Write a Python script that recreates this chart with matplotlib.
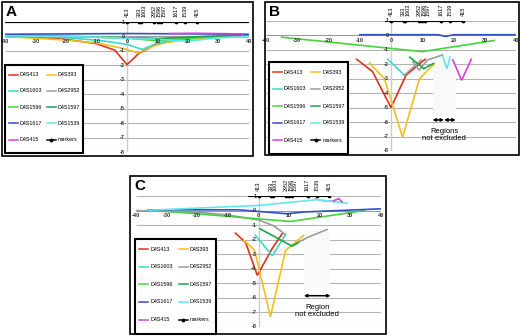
import numpy as np
import matplotlib.pyplot as plt
from matplotlib.patches import Rectangle
from matplotlib.lines import Line2D

plt.rcParams['font.family'] = ['Liberation Sans', 'DejaVu Sans']

W, H = 520, 336
nan = np.nan

names = ['D4S413', 'D4S393', 'D4S1603', 'D4S2952', 'D4S1596',
         'D4S1597', 'D4S1617', 'D4S1539', 'D4S415']
colors = ['#e2321c', '#f2c01a', '#3fd8c6', '#9c9c9c', '#46d43a',
          '#1ea64e', '#3050c8', '#62e8ea', '#d840d8']

marker_pos = [0, 4, 4.6, 9, 10, 11, 16, 19, 23]
marker_lab = ['413', '393', '1603', '2952', '1596', '1597', '1617', '1539', '415']
xticks = [-40, -30, -20, -10, 0, 10, 20, 30, 40]
yticks = [1, 0, -1, -2, -3, -4, -5, -6, -7, -8]

# panel A
a_413 = [[-40, 0], [-30, -0.05], [-20, -0.2], [-10, -0.5], [-4, -0.95], [0, -1.95],
         [4, -1.15], [10, -0.5], [20, -0.15], [30, -0.02], [40, 0]]
a_393 = [[-40, 0], [-20, -0.25], [-10, -0.45], [-3, -0.75], [0, -0.9], [3.5, -1.15],
         [7, -0.8], [12, -0.45], [20, -0.2], [30, -0.05], [40, 0]]
a_1603 = [[-40, 0.08], [-20, -0.08], [-8, -0.3], [0, -0.55], [5, -0.9], [10, -0.45],
          [20, -0.1], [40, 0.05]]
a_2952 = [[-40, 0.05], [0, -0.05], [10, -0.15], [20, -0.05], [40, 0.05]]
a_1596 = [[-40, 0.12], [-20, 0.02], [0, -0.12], [10, -0.3], [20, -0.12], [40, 0.12]]
a_1597 = [[-40, 0.02], [-10, -0.05], [10, -0.15], [25, 0], [40, 0.1]]
a_1617 = [[-40, 0.15], [0, 0.2], [20, 0.18], [40, 0.15]]
a_1539 = [[-40, 0.05], [-10, -0.05], [10, -0.2], [20, -0.32], [30, -0.1], [40, 0]]
a_415 = [[14, 0.2], [22, 0.22], [30, 0.2], [38, 0.17]]

# panel B
b_413 = [[-11, -1.65], [-5.9, -2.5], [0, -5.0], [4.8, -2.75], [10.9, -1.65]]
b_393 = [[-6.9, -1.9], [-2.1, -3.0], [3.7, -7.05], [9.1, -3.0], [13.9, -1.95]]
b_1603 = [[-1, -1.65], [4.3, -2.75]]
b_2952 = [[4.3, -2.75], [9.7, -1.7], [nan, nan], [7, -1.8], [9, -2.4], [11.7, -1.7],
          [16.5, -1.35]]
b_1596 = [[-35, -0.12], [10, -1.12], [33, -0.35]]
b_1597 = [[6, -1.5], [10.5, -2.3], [13.5, -1.95]]
b_1617 = [[-10, 0.05], [15, 0.05], [17.5, -0.07], [20, 0.05], [40, 0.05]]
b_1539 = [[16.6, -1.5], [17.9, -2.3], [18.9, -1.5]]
b_415 = [[19.8, -1.7], [22.6, -3.1], [25.7, -1.65]]

# panel C
c_413 = [[-7.5, -1.55], [-4.2, -2.2], [-0.4, -4.45], [4.5, -2.6], [7.7, -1.6]]
c_393 = [[-4.8, -2.05], [-1.3, -2.7], [3.9, -7.3], [8.8, -2.75], [14.8, -1.7]]
c_1603 = [[-1, -1.7], [4.5, -3.1], [7.2, -2.2], [8.8, -1.65]]
c_2952 = [[-40, 0], [-20, -0.12], [-10, -0.3], [0, -0.65], [5, -1.05], [8.8, -1.65],
          [nan, nan], [11, -2.4], [16, -1.85], [22.4, -1.3],
          [nan, nan], [18.6, 0.8], [21, 0.68], [24.5, 0.65]]
c_1596 = [[-36, 0.05], [10.5, -0.75], [34.5, 0]]
c_1597 = [[0.5, -1.25], [11, -2.45], [13, -2.2]]
c_1617 = [[-36, 0.05], [-6.5, 0.05], [9.4, -0.22], [14.8, -0.1], [40, 0.12]]
c_1539 = [[-36, 0.02], [0, 0.35], [19.2, 0.75], [29, 0.5]]
c_415 = [[24.6, 0.68], [26.2, 0.82], [27.3, 0.6]]

b_regions = [[13.3, 17], [17, 20.7]]
c_regions = [[14.8, 23.5]]


def px(x, y):
    return x / W, 1 - y / H


fig = plt.figure(figsize=(W / 100, H / 100), dpi=100)


def draw_legend(x0, y0, x1, y1):
    fig.add_artist(Rectangle(px(x0, y1), (x1 - x0) / W, (y1 - y0) / H,
                             transform=fig.transFigure, fc='white', ec='black',
                             lw=1.5, zorder=5))
    sw, sh = (x1 - x0) / 80, (y1 - y0) / 92
    entries = list(zip(names, colors)) + [('markers', 'black')]
    for i, (nm, c) in enumerate(entries):
        col, row = i % 2, i // 2
        yy = y0 + (10 + 17 * row) * sh
        lx = x0 + (4 + 39 * col) * sw
        p1, p2 = px(lx, yy), px(lx + 9 * sw, yy)
        fig.add_artist(Line2D([p1[0], p2[0]], [p1[1], p2[1]], color=c, lw=1.1,
                              transform=fig.transFigure, zorder=6))
        if nm == 'markers':
            pm = px(lx + 4.5 * sw, yy)
            fig.add_artist(Line2D([pm[0]], [pm[1]], marker='o', ms=1.8, color='black',
                                  transform=fig.transFigure, zorder=6))
        tx = px(lx + 11 * sw, yy)
        fig.text(tx[0], tx[1], nm, fontsize=3.9, va='center', ha='left', zorder=6)


def draw_panel(letter, frame, plot, legend, series, line_ext, grid1, regions, region_box, region_txt):
    fx0, fy0, fx1, fy1 = frame
    fig.add_artist(Rectangle(px(fx0, fy1), (fx1 - fx0) / W, (fy1 - fy0) / H,
                             transform=fig.transFigure, fill=False, ec='black', lw=1.2, zorder=4))
    lp = px(fx0 + 4, fy0 + 3)
    fig.text(lp[0], lp[1], letter, fontsize=11, fontweight='bold', va='top', ha='left')

    x0, y0, x1, y1 = plot
    ax = fig.add_axes([x0 / W, 1 - y1 / H, (x1 - x0) / W, (y1 - y0) / H])
    ax.set_xlim(-40, 40)
    ax.set_ylim(-8, 1)
    ax.axis('off')

    for t in yticks:
        c = '#999999' if t == 0 else '#b4b4b4'
        if t == 1:
            c = grid1
        ax.hlines(t, -40, 40, color=c, lw=0.8, zorder=1)
        ax.text(-0.7, t, str(t), fontsize=4, fontweight='bold', ha='right', va='center',
                color='#333333', zorder=4)
    ax.vlines(0, -8, 1, color='#cccccc', lw=1.0, zorder=1)
    for t in xticks:
        ax.text(t, -0.18, str(t), fontsize=4, fontweight='bold', ha='center', va='top',
                color='#333333', zorder=4)

    # marker map on top line
    mx = [line_ext[0]] + marker_pos + [line_ext[1]]
    ax.plot(mx, [1] * len(mx), color='black', lw=0.8, zorder=3)
    ax.plot(marker_pos, [1] * len(marker_pos), 'o', color='black', ms=1.7, zorder=3)
    lx_prev = -99
    for pos, lab in zip(marker_pos, marker_lab):
        lx = max(pos, lx_prev + 1.5)
        lx_prev = lx
        ax.text(lx, 1.35, lab, fontsize=4, rotation=90, ha='center', va='bottom',
                clip_on=False)

    if region_box is not None:
        rx0, rx1, ry0, ry1 = region_box
        ax.add_patch(Rectangle((rx0, ry0), rx1 - rx0, ry1 - ry0, fc='#f9f9f9', ec='none', zorder=1.5))
        for r0, r1 in regions:
            ax.annotate('', xy=(r1, -5.85), xytext=(r0, -5.85),
                        arrowprops=dict(arrowstyle='<|-|>', lw=1.1, color='black',
                                        mutation_scale=4, shrinkA=0, shrinkB=0))
        xc = (regions[0][0] + regions[-1][1]) / 2
        ax.text(xc, -6.4, region_txt, fontsize=5.5, ha='center', va='top', linespacing=1.0)

    for data, c in zip(series, colors):
        arr = np.array(data, dtype=float)
        ax.plot(arr[:, 0], arr[:, 1], color=c, lw=1.2, zorder=3, solid_joinstyle='miter')

    draw_legend(*legend)


draw_panel('A', (2, 2, 253, 156), (5, 22, 249, 152), (5, 65, 83, 153),
           [a_413, a_393, a_1603, a_2952, a_1596, a_1597, a_1617, a_1539, a_415],
           (-40, 40), '#444444', [], None, '')
draw_panel('B', (265, 2, 519, 155), (266, 21, 516, 151), (269, 62, 348, 154),
           [b_413, b_393, b_1603, b_2952, b_1596, b_1597, b_1617, b_1539, b_415],
           (-2, 23), '#b4b4b4', b_regions, (13.3, 20.7, -5.6, -1.5), 'Regions\nnot excluded')
draw_panel('C', (130, 176, 386, 334), (136, 196, 381, 327), (135, 239, 216, 334),
           [c_413, c_393, c_1603, c_2952, c_1596, c_1597, c_1617, c_1539, c_415],
           (-3.5, 23.5), '#b4b4b4', c_regions, (14.8, 23.5, -5.3, -1.4), 'Region\nnot excluded')

fig.savefig('out.png', dpi=100)
